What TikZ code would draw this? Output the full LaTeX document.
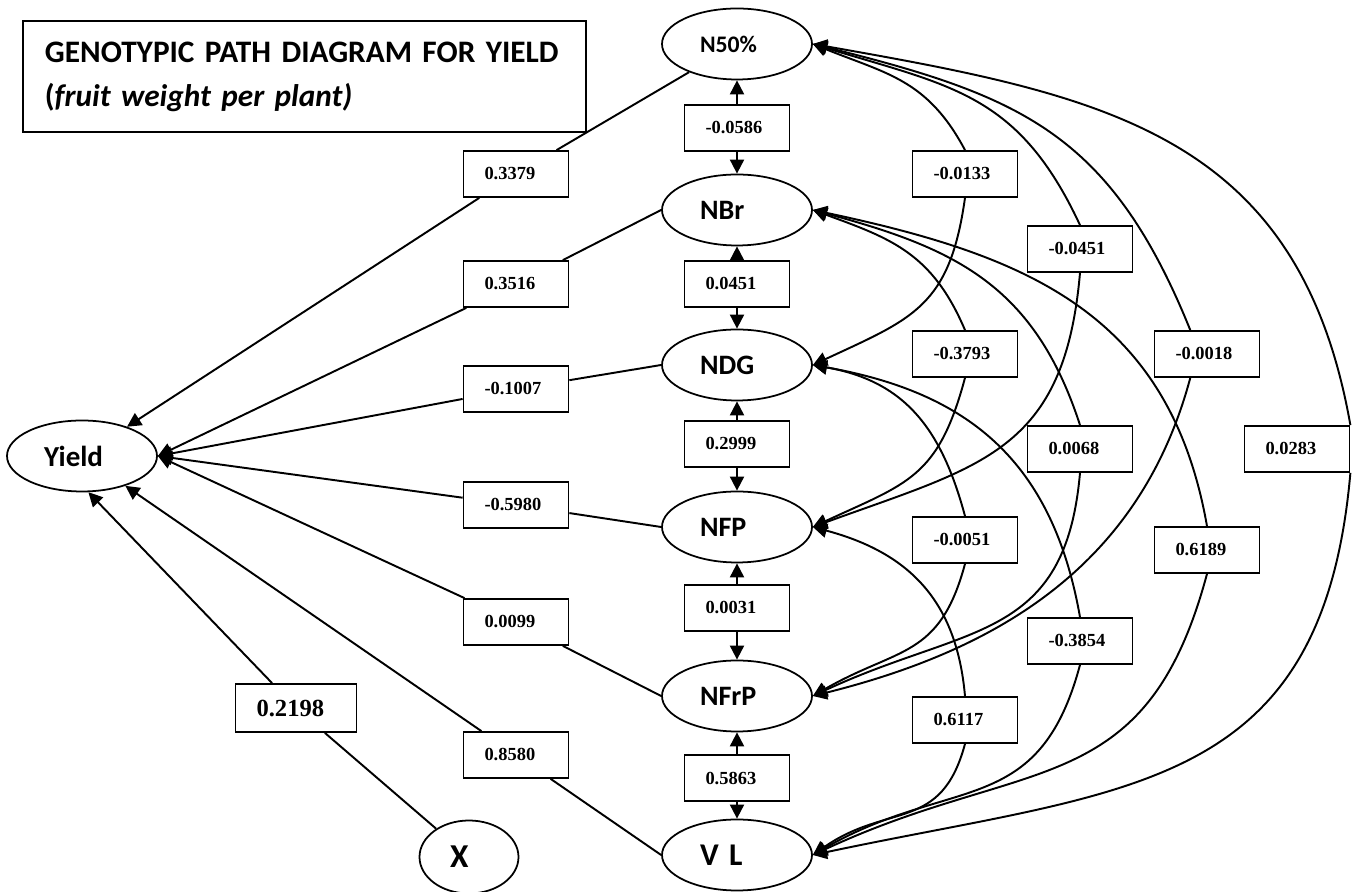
\documentclass[tikz,border=0pt]{standalone}
\usepackage{fontspec}
\setmainfont{Liberation Serif}
\newfontfamily\calibri{Carlito}
\usetikzlibrary{arrows.meta,shapes.geometric,backgrounds}
\tikzset{
  trait/.style={ellipse, draw, line width=1pt, minimum width=3cm, minimum height=1.42cm, inner sep=0pt, text width=1.48cm, align=left, font=\calibri\bfseries\fontsize{16}{19}\selectfont},
  valbox/.style={draw, fill=white, line width=1pt, minimum height=0.92cm, text width=1.26cm, inner xsep=0.42cm, inner ysep=0pt, align=left, font=\bfseries\fontsize{10.5}{12}\selectfont},
  bigvalbox/.style={valbox, minimum height=0.96cm, text width=1.58cm, font=\bfseries\fontsize{14}{16}\selectfont},
  titlebox/.style={draw, line width=1.1pt, text width=10.38cm, inner xsep=0.44cm, minimum height=2.22cm, align=left, font=\calibri\bfseries\fontsize{17.8}{25}\selectfont},
  link/.style={line width=1.1pt},
  arrow/.style={-{Triangle[length=8pt,width=8pt]}, line width=1.1pt},
  backarrow/.style={{Triangle[length=8pt,width=8pt]}-, line width=1.1pt}
}
\begin{document}
\begin{tikzpicture}
\useasboundingbox (0,0) rectangle (27.04,17.84);
\node[titlebox, anchor=north west] (title) at (0.44,17.44) {\mbox{GENOTYPIC PATH DIAGRAM FOR YIELD}\\(\textit{fruit weight per plant)}};
\node[trait, font=\calibri\bfseries\fontsize{13.5}{16}\selectfont] (n50) at (14.74,16.96) {N50\%};
\node[trait] (nbr) at (14.74,13.64) {NBr};
\node[trait] (ndg) at (14.74,10.54) {NDG};
\node[trait] (nfp) at (14.74,7.30) {NFP};
\node[trait] (nfrp) at (14.74,3.92) {NFrP};
\node[trait, font=\calibri\bfseries\fontsize{18}{21}\selectfont] (vl) at (14.74,0.74) {V L};
\node[trait, text width=1.52cm, font=\calibri\bfseries\fontsize{16.5}{19}\selectfont] (yield) at (1.64,8.72) {Yield};
\node[trait, minimum width=1.98cm, minimum height=1.46cm, text width=0.76cm, font=\calibri\bfseries\fontsize{19}{22}\selectfont] (x) at (9.38,0.70) {X};
\node[valbox] (c1) at (14.74,15.28) {-0.0586};
\node[valbox] (c2) at (14.74,12.16) {0.0451};
\node[valbox] (c3) at (14.74,8.96) {0.2999};
\node[valbox] (c4) at (14.74,5.68) {0.0031};
\node[valbox] (c5) at (14.74,2.28) {0.5863};
\node[valbox] (p1) at (10.32,14.36) {0.3379};
\node[valbox] (p2) at (10.32,12.16) {0.3516};
\node[valbox] (p3) at (10.32,10.06) {-0.1007};
\node[valbox] (p4) at (10.32,7.74) {-0.5980};
\node[valbox] (p5) at (10.32,5.40) {0.0099};
\node[valbox] (p6) at (10.32,2.74) {0.8580};
\node[bigvalbox] (p0) at (5.92,3.68) {0.2198};
\node[valbox] (a) at (19.30,14.36) {-0.0133};
\node[valbox] (b) at (21.60,12.86) {-0.0451};
\node[valbox] (c) at (24.14,10.76) {-0.0018};
\node[valbox] (d) at (25.94,8.86) {0.0283};
\node[valbox] (e) at (19.30,10.76) {-0.3793};
\node[valbox] (f) at (21.60,8.86) {0.0068};
\node[valbox] (g) at (24.14,6.84) {0.6189};
\node[valbox] (h) at (19.30,7.04) {-0.0051};
\node[valbox] (i) at (21.60,5.02) {-0.3854};
\node[valbox] (j) at (19.30,3.44) {0.6117};
\draw[link] (n50) -- (p1); \draw[arrow] (p1) -- (yield);
\draw[link] (nbr.west) -- (p2); \draw[arrow] (p2) -- (yield.east);
\draw[link] (ndg.west) -- (p3); \draw[arrow] (p3) -- (yield.east);
\draw[link] (nfp.west) -- (p4); \draw[arrow] (p4) -- (yield.east);
\draw[link] (nfrp.west) -- (p5); \draw[arrow] (p5) -- (yield.east);
\draw[link] (vl.west) -- (p6); \draw[arrow] (p6) -- (yield);
\draw[link] (x) -- (p0); \draw[arrow] (p0) -- (yield.-80);
\draw[arrow] (c1) -- (n50); \draw[arrow] (c1) -- (nbr);
\draw[arrow] (c2) -- (nbr); \draw[arrow] (c2) -- (ndg);
\draw[arrow] (c3) -- (ndg); \draw[arrow] (c3) -- (nfp);
\draw[arrow] (c4) -- (nfp); \draw[arrow] (c4) -- (nfrp);
\draw[arrow] (c5) -- (nfrp); \draw[arrow] (c5) -- (vl);
\begin{scope}[on background layer]
\fill[white] (0,0) rectangle (27.04,17.84);
\draw[backarrow] (n50.east) to[out=-22,in=118,looseness=1.1] (a.north);
\draw[arrow] (a.south) to[out=-98,in=25,looseness=1.25] (ndg.east);
\draw[backarrow] (n50.east) to[out=-17,in=115,looseness=1.15] (b.north);
\draw[arrow] (b.south) to[out=-95,in=20,looseness=1.25] (nfp.east);
\draw[backarrow] (n50.east) to[out=-14,in=112,looseness=1.15] (c.125);
\draw[arrow] (c.235) to[out=-105,in=14,looseness=1.0] (nfrp.east);
\draw[backarrow] (n50.east) to[out=-10,in=100,looseness=1.15] (d.north east);
\draw[arrow] (d.south east) to[out=-95,in=12,looseness=1.25] (vl.east);
\draw[backarrow] (nbr.east) to[out=-20,in=113,looseness=1.1] (e.north);
\draw[arrow] (e.south) to[out=-105,in=25,looseness=1.25] (nfp.east);
\draw[backarrow] (nbr.east) to[out=-15,in=108,looseness=1.1] (f.north);
\draw[arrow] (f.south) to[out=-95,in=25,looseness=1.25] (nfrp.east);
\draw[backarrow] (nbr.east) to[out=-12,in=100,looseness=1.1] (g.north);
\draw[arrow] (g.south) to[out=-105,in=25,looseness=1.25] (vl.east);
\draw[backarrow] (ndg.east) to[out=-10,in=105,looseness=1.1] (h.north);
\draw[arrow] (h.south) to[out=-105,in=30,looseness=1.25] (nfrp.east);
\draw[backarrow] (ndg.east) to[out=-10,in=100,looseness=1.1] (i.north);
\draw[arrow] (i.south) to[out=-105,in=30,looseness=1.25] (vl.east);
\draw[backarrow] (nfp.east) to[out=-15,in=95,looseness=1.1] (j.north);
\draw[arrow] (j.south) to[out=-105,in=35,looseness=1.25] (vl.east);
\end{scope}
\end{tikzpicture}
\end{document}
